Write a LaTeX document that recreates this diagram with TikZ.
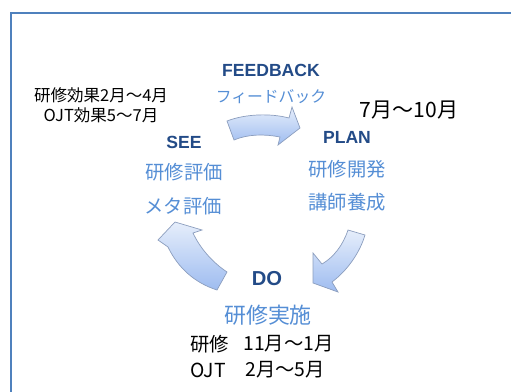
\documentclass[tikz,border=0pt]{standalone}
\usepackage{fontspec}
\setmainfont{Liberation Sans}
\newfontfamily\jpfont{Noto Sans CJK JP}
\usepackage{tikz}
\usetikzlibrary{positioning}

\definecolor{framec}{RGB}{79,129,189}
\definecolor{darkb}{RGB}{35,75,135}
\definecolor{lightb}{RGB}{85,142,213}
\definecolor{arrtop}{RGB}{230,238,251}
\definecolor{arrbot}{RGB}{158,188,240}
\definecolor{arredge}{RGB}{140,158,190}

\begin{document}
\begin{tikzpicture}[x=0.02cm, y=-0.02cm,
        phase/.style={font=\fontsize{10}{12}\selectfont\bfseries, text=darkb, inner sep=0pt},
        task/.style={font=\jpfont\fontsize{11}{13}\selectfont, text=lightb, inner sep=0pt},
        when/.style={font=\jpfont\fontsize{9.4}{11}\selectfont, text=black, inner sep=0pt},
        cyc/.style={draw=arredge, line width=0.4pt, top color=arrtop, bottom color=arrbot}
      ]
        \useasboundingbox (0,0) rectangle (511,392);
        \draw[framec, line width=1.3pt] (11,400) -- (11,13) -- (520,13);

        % phases
        \node[phase]  (feedback)  at (271,70)                                          {FEEDBACK};
        \node[task, font=\jpfont\fontsize{9}{11}\selectfont] (fbtask) at (271,97)    {フィードバック};
        \node[phase]  (see)       at (184,142)                                         {SEE};
        \node[task]   (see1)      at (184,172)                                         {研修評価};
        \node[task]   (see2)      at (183,206)                                         {メタ評価};
        \node[phase]  (plan)      at (347,137)                                         {PLAN};
        \node[task]   (plan1)     at (347,169)                                         {研修開発};
        \node[task]   (plan2)     at (347,202)                                         {講師養成};
        \node[phase, font=\fontsize{11.5}{13}\selectfont\bfseries] (do) at (267,279) {DO};
        \node[task, font=\jpfont\fontsize{12.5}{14}\selectfont] (do1) at (268,315)   {研修実施};

        % periods
        \node[when]   (seewhen1)  at (101,95)                                          {研修効果2月～4月};
        \node[when]   (seewhen2)  at (101,115)                                         {OJT効果5～7月};
        \node[when, font=\jpfont\fontsize{12}{14}\selectfont] (planwhen) at (409,110) {7月～10月};
        \node[when, anchor=west, font=\jpfont\fontsize{11}{13}\selectfont] (dolbl1)  at (190,344) {研修};
        \node[when, anchor=west, font=\jpfont\fontsize{11}{13}\selectfont] (dowhen1) at (243,344) {11月～1月};
        \node[when, anchor=west, font=\jpfont\fontsize{11}{13}\selectfont] (dolbl2)  at (190,370) {OJT};
        \node[when, anchor=west, font=\jpfont\fontsize{11}{13}\selectfont] (dowhen2) at (245,370) {2月～5月};

        % cycle arrows
        \draw[cyc] (227,121) .. controls (245,114) and (270,113) .. (289,118) -- (292,107) -- (300,128)
                   -- (278,145) -- (280,137) .. controls (265,134) and (248,134) .. (234,140) -- cycle;
        \draw[cyc] (348,230) .. controls (343,245) and (334,257) .. (322,264) -- (313,253) -- (313,283)
                   -- (338,292) -- (332,282) .. controls (348,270) and (360,252) .. (365,235) -- cycle;
        \draw[cyc] (217,290) .. controls (195,283) and (178,268) .. (168,247) -- (158,240) -- (175,222)
                   -- (202,230) -- (193,233) .. controls (200,248) and (212,262) .. (227,272) -- cycle;
      \end{tikzpicture}
\end{document}
